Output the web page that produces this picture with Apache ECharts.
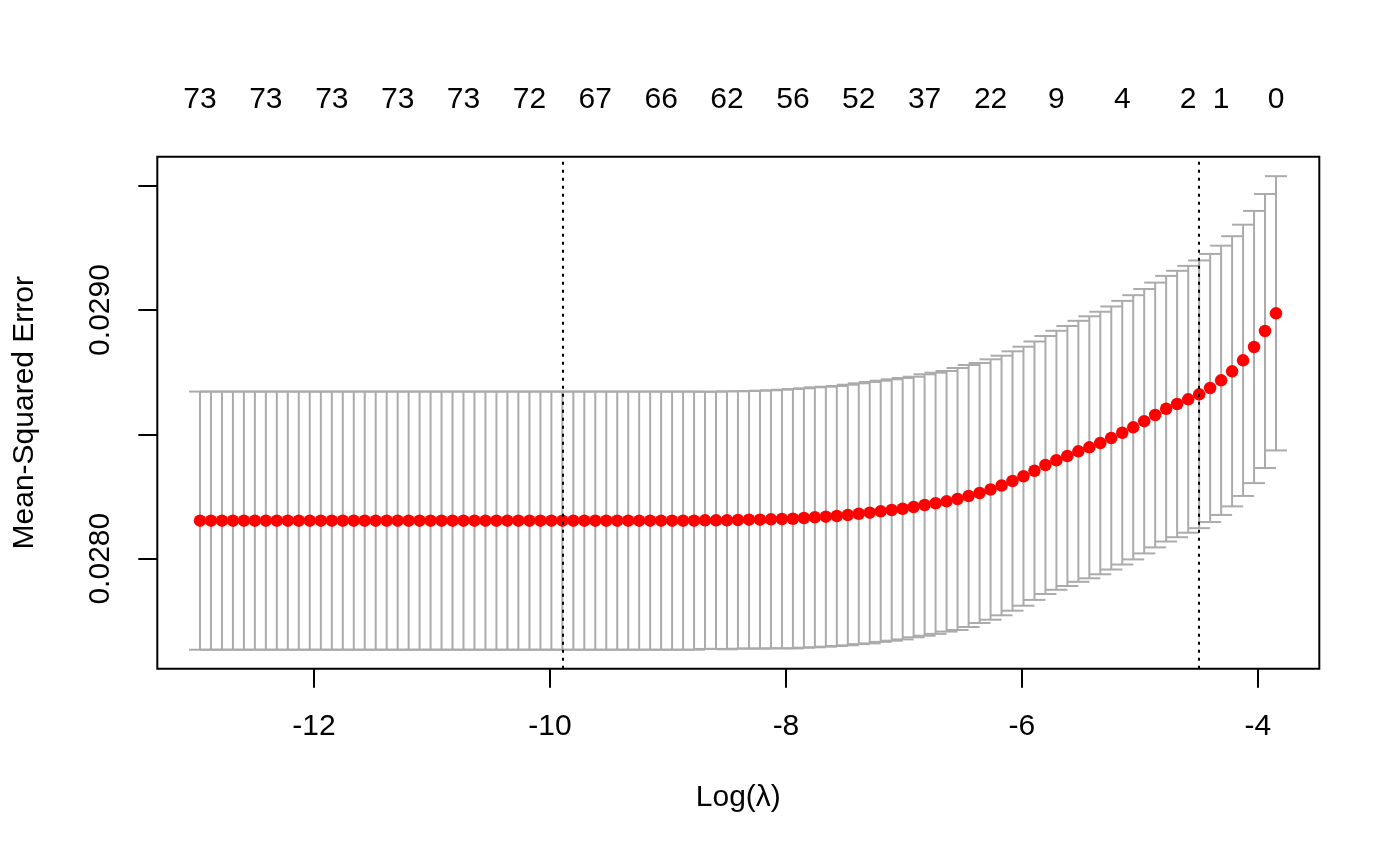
<!DOCTYPE html>
<html>
<head>
<meta charset="utf-8">
<script src="https://cdn.jsdelivr.net/npm/echarts@6/dist/echarts.min.js"></script>
<style>
html,body{margin:0;padding:0;background:#fff;}
#chart{width:1400px;height:865px;}
</style>
</head>
<body>
<div id="chart"></div>
<script>
// log(lambda) for each fitted model
const logLambda = [
 -12.966,-12.873,-12.780,-12.687,-12.594,-12.501,-12.408,-12.315,-12.222,-12.129,
 -12.036,-11.942,-11.849,-11.756,-11.663,-11.570,-11.477,-11.384,-11.291,-11.198,
 -11.105,-11.012,-10.919,-10.826,-10.733,-10.640,-10.547,-10.454,-10.361,-10.268,
 -10.174,-10.081,-9.988,-9.895,-9.802,-9.709,-9.616,-9.523,-9.430,-9.337,
 -9.244,-9.151,-9.058,-8.965,-8.872,-8.779,-8.686,-8.593,-8.500,-8.407,
 -8.313,-8.220,-8.127,-8.034,-7.941,-7.848,-7.755,-7.662,-7.569,-7.476,
 -7.383,-7.290,-7.197,-7.104,-7.011,-6.918,-6.825,-6.732,-6.639,-6.546,
 -6.452,-6.359,-6.266,-6.173,-6.080,-5.987,-5.894,-5.801,-5.708,-5.615,
 -5.522,-5.429,-5.336,-5.243,-5.150,-5.057,-4.964,-4.871,-4.778,-4.685,
 -4.591,-4.498,-4.405,-4.312,-4.219,-4.126,-4.033,-3.940,-3.847
];
// cross-validated mean squared error
const cvm = [
 0.028153,0.028153,0.028153,0.028153,0.028153,0.028153,0.028153,0.028153,0.028153,0.028153,
 0.028153,0.028153,0.028153,0.028153,0.028153,0.028153,0.028153,0.028153,0.028153,0.028153,
 0.028153,0.028153,0.028153,0.028153,0.028153,0.028153,0.028153,0.028153,0.028153,0.028153,
 0.028153,0.028153,0.028153,0.028153,0.028153,0.028153,0.028153,0.028153,0.028153,0.028153,
 0.028153,0.028153,0.028153,0.028153,0.028153,0.028153,0.0281544,0.0281544,0.0281544,0.0281556,
 0.0281568,0.0281568,0.0281584,0.0281596,0.0281608,0.0281637,0.0281665,0.0281689,0.0281717,0.0281757,
 0.0281809,0.0281850,0.0281906,0.0281958,0.0282010,0.0282079,0.0282159,0.0282228,0.0282308,0.0282400,
 0.0282521,0.0282642,0.0282782,0.0282943,0.0283124,0.0283317,0.0283538,0.0283768,0.0283957,0.0284129,
 0.0284318,0.0284479,0.0284652,0.0284853,0.0285066,0.0285283,0.0285529,0.0285778,0.0286031,0.0286220,
 0.0286409,0.0286610,0.0286864,0.0287173,0.0287535,0.0287977,0.0288512,0.0289156,0.0289867
];
// standard error of the cv estimate
const cvsd = [
 0.000519,0.000519,0.000519,0.000519,0.000519,0.000519,0.000519,0.000519,0.000519,0.000519,
 0.000519,0.000519,0.000519,0.000519,0.000519,0.000519,0.000519,0.000519,0.000519,0.000519,
 0.000519,0.000519,0.000519,0.000519,0.000519,0.000519,0.000519,0.000519,0.000519,0.000519,
 0.000519,0.000519,0.000519,0.000519,0.000519,0.000519,0.000519,0.000519,0.000519,0.000519,
 0.000519,0.000519,0.000519,0.000519,0.000519,0.000519,0.0005171,0.0005171,0.0005187,0.0005175,
 0.0005175,0.0005187,0.0005187,0.0005199,0.0005215,0.0005215,0.0005227,0.0005227,0.0005227,0.0005239,
 0.0005243,0.0005255,0.0005251,0.0005255,0.0005255,0.0005239,0.0005255,0.0005251,0.0005239,0.0005267,
 0.0005267,0.0005227,0.0005235,0.0005219,0.0005215,0.0005207,0.0005195,0.0005187,0.0005207,0.0005227,
 0.0005247,0.0005267,0.0005278,0.0005288,0.0005300,0.0005312,0.0005316,0.0005324,0.0005340,0.0005356,
 0.0005364,0.0005382,0.0005390,0.0005414,0.0005432,0.0005454,0.0005472,0.0005508,0.0005513
];
const lambdaMin = -9.895;
const lambda1se = -4.498;
// number of non-zero coefficients shown on the top axis
const topLabelIdx = [0,6,12,18,24,30,36,42,48,54,60,66,72,78,84,90,93,98];
const topLabels = ['73','73','73','73','73','72','67','66','62','56','52','37','22','9','4','2','1','0'];
const xTicks = [-12,-10,-8,-6,-4];
const yTicks = [0.028,0.0285,0.029,0.0295];
const yTickLabels = [0.028,0.029];

const xMin = -13.328, xMax = -3.480;
const yMin = 0.0275577, yMax = 0.0296164;

const FONT = 'Liberation Sans, Arial, sans-serif';
const topPos = topLabelIdx.map(i => logLambda[i]);

const chart = echarts.init(document.getElementById('chart'), null, {renderer:'canvas'});
const barColor = '#ababab';

const option = {
  backgroundColor: '#ffffff',
  animation: false,
  grid: {left:157.3, right:80.7, top:156.7, bottom:196.3, show:true, borderColor:'#000', borderWidth:2, backgroundColor:'transparent'},
  xAxis: [{
    type:'value', min:xMin, max:xMax, position:'bottom',
    name:'Log(λ)', nameLocation:'middle', nameGap:114,
    nameTextStyle:{fontSize:30, color:'#000', fontFamily:FONT},
    axisLine:{show:false},
    splitLine:{show:false},
    axisTick:{show:true, customValues:xTicks, length:19, lineStyle:{color:'#000', width:2}},
    axisLabel:{customValues:xTicks, margin:43, fontSize:30, color:'#000', fontFamily:FONT, formatter: v => String(v)}
  },{
    type:'value', min:xMin, max:xMax, position:'top',
    axisLine:{show:false}, splitLine:{show:false}, axisTick:{show:false},
    axisLabel:{customValues:topPos, margin:42, fontSize:30, color:'#000', fontFamily:FONT,
      formatter: v => { for (let j=0;j<topPos.length;j++){ if (Math.abs(topPos[j]-v)<1e-9) return topLabels[j]; } return ''; }}
  }],
  yAxis: [{
    type:'value', min:yMin, max:yMax,
    name:'Mean-Squared Error', nameLocation:'middle', nameGap:118, nameRotate:90,
    nameTextStyle:{fontSize:30, color:'#000', fontFamily:FONT},
    axisLine:{show:false}, splitLine:{show:false},
    axisTick:{show:true, customValues:yTicks, length:19, lineStyle:{color:'#000', width:2}},
    axisLabel:{customValues:yTickLabels, rotate:90, margin:42, fontSize:30, color:'#000', fontFamily:FONT, formatter: v => v.toFixed(4)}
  }],
  series: [{
    type:'custom', xAxisIndex:0, yAxisIndex:0, z:2, silent:true, clip:false,
    data: logLambda.map((x,i) => [x, cvm[i]-cvsd[i], cvm[i]+cvsd[i]]),
    encode:{x:0, y:[1,2]},
    renderItem: function(params, api){
      const x = api.value(0), lo = api.value(1), hi = api.value(2);
      const pLo = api.coord([x, lo]), pHi = api.coord([x, hi]);
      const w = 11;
      const st = {stroke:barColor, lineWidth:2};
      return {type:'group', children:[
        {type:'line', shape:{x1:pLo[0], y1:pLo[1], x2:pHi[0], y2:pHi[1]}, style:st},
        {type:'line', shape:{x1:pHi[0]-w, y1:pHi[1], x2:pHi[0]+w, y2:pHi[1]}, style:st},
        {type:'line', shape:{x1:pLo[0]-w, y1:pLo[1], x2:pLo[0]+w, y2:pLo[1]}, style:st}
      ]};
    }
  },{
    type:'scatter', xAxisIndex:0, yAxisIndex:0, z:3, silent:true,
    symbol:'circle', symbolSize:12.5,
    itemStyle:{color:'#ff0000', opacity:1},
    data: logLambda.map((x,i) => [x, cvm[i]])
  },{
    type:'line', xAxisIndex:0, yAxisIndex:0, z:4, data:[], silent:true,
    markLine:{silent:true, symbol:['none','none'], label:{show:false}, animation:false,
      lineStyle:{color:'#000', type:[3,5], width:2},
      data:[{xAxis:lambdaMin},{xAxis:lambda1se}]}
  }]
};
chart.setOption(option);
</script>
</body>
</html>
